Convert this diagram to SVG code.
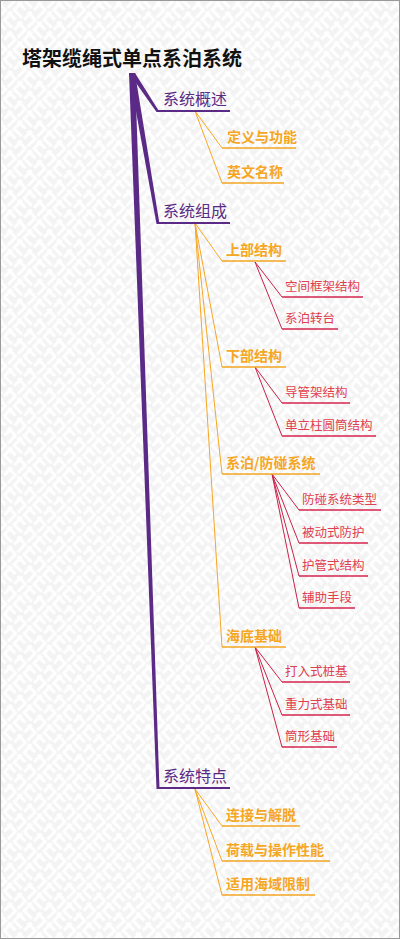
<svg xmlns="http://www.w3.org/2000/svg" width="400" height="939" viewBox="0 0 400 939">
<defs>
<pattern id="bg" width="28" height="28" patternUnits="userSpaceOnUse" patternTransform="rotate(45)">
<rect width="28" height="28" fill="#f3f3f3"/>
<path d="M0 3 H11 V14 M3 0 V11 M17 0 V11 H28 M14 3 H25 M0 17 H11 V28 M3 14 V25 M17 14 V25 H28 M14 17 H25" fill="none" stroke="#ffffff" stroke-width="3"/>
</pattern>
<style>
text{font-family:"Noto Sans CJK SC","Noto Sans",sans-serif}
.root{font-size:20px;font-weight:bold;fill:#111}
.l1{font-size:16px;fill:#5a2a86}
.l2{font-size:14px;font-weight:bold;fill:#f5a623}
.l3{font-size:12.5px;fill:#e0404e}
.u1{stroke:#5a2a86;stroke-width:2;fill:none}
.u2{stroke:#f5a623;stroke-width:1.5;fill:none}
.u3{stroke:#d4244c;stroke-width:1.5;fill:none}
.c1{fill:#5a2a86}
.c2{stroke:#f5a623;stroke-width:1;fill:none}
.c3{stroke:#c8224a;stroke-width:1;fill:none}
</style>
</defs>
<rect x="0" y="0" width="400" height="939" fill="url(#bg)"/>
<rect x="0.5" y="0.5" width="399" height="938" fill="none" stroke="#999" stroke-width="1"/>

<g id="connectors">
<polygon class="c1" points="129,73 135,73 159.5,112 156.5,112"/>
<polygon class="c1" points="129,73 135,73 159.5,224 156.5,224"/>
<polygon class="c1" points="129,73 135,73 159.5,789 156.5,789"/>
<path class="c2" d="M195 111 L222 148 M195 111 L222 183"/>
<path class="c2" d="M195 223 L222 261 M195 223 L222 367 M195 223 L222 474 M195 223 L222 647"/>
<path class="c2" d="M195 789 L222 826 M195 789 L222 861 M195 789 L222 895"/>
<path class="c3" d="M255 262 L282 297 M255 262 L282 329"/>
<path class="c3" d="M255 367 L282 403 M255 367 L282 436"/>
<path class="c3" d="M272 474 L299 510 M272 474 L299 543 M272 474 L299 576 M272 474 L299 608"/>
<path class="c3" d="M255 647 L282 682 M255 647 L282 715 M255 647 L282 747"/>
</g>

<g id="root"><text class="root" x="22" y="66">塔架缆绳式单点系泊系统</text></g>

<g id="n-overview"><text class="l1" x="163" y="105">系统概述</text><line class="u1" x1="157" y1="111" x2="230" y2="111"/></g>
<g id="n-def"><text class="l2" x="227" y="142">定义与功能</text><line class="u2" x1="222" y1="148" x2="296" y2="148"/></g>
<g id="n-en"><text class="l2" x="227" y="177">英文名称</text><line class="u2" x1="222" y1="183" x2="284" y2="183"/></g>

<g id="n-comp"><text class="l1" x="163" y="217">系统组成</text><line class="u1" x1="157" y1="223" x2="230" y2="223"/></g>
<g id="n-upper"><text class="l2" x="226" y="255">上部结构</text><line class="u2" x1="222" y1="261" x2="286" y2="261"/></g>
<g id="n-space"><text class="l3" x="285" y="291">空间框架结构</text><line class="u3" x1="282" y1="297" x2="363" y2="297"/></g>
<g id="n-turret"><text class="l3" x="285" y="323">系泊转台</text><line class="u3" x1="282" y1="329" x2="338" y2="329"/></g>
<g id="n-lower"><text class="l2" x="226" y="361">下部结构</text><line class="u2" x1="222" y1="367" x2="286" y2="367"/></g>
<g id="n-jacket"><text class="l3" x="285" y="397">导管架结构</text><line class="u3" x1="282" y1="403" x2="350" y2="403"/></g>
<g id="n-mono"><text class="l3" x="285" y="430">单立柱圆筒结构</text><line class="u3" x1="282" y1="436" x2="376" y2="436"/></g>
<g id="n-moor"><text class="l2" x="226" y="468">系泊/防碰系统</text><line class="u2" x1="222" y1="474" x2="320" y2="474"/></g>
<g id="n-fender"><text class="l3" x="302" y="504">防碰系统类型</text><line class="u3" x1="299" y1="510" x2="381" y2="510"/></g>
<g id="n-passive"><text class="l3" x="302" y="537">被动式防护</text><line class="u3" x1="299" y1="543" x2="368" y2="543"/></g>
<g id="n-tube"><text class="l3" x="302" y="570">护管式结构</text><line class="u3" x1="299" y1="576" x2="368" y2="576"/></g>
<g id="n-aux"><text class="l3" x="302" y="602">辅助手段</text><line class="u3" x1="299" y1="608" x2="355" y2="608"/></g>
<g id="n-found"><text class="l2" x="226" y="641">海底基础</text><line class="u2" x1="222" y1="647" x2="286" y2="647"/></g>
<g id="n-pile"><text class="l3" x="285" y="676">打入式桩基</text><line class="u3" x1="282" y1="682" x2="350" y2="682"/></g>
<g id="n-gravity"><text class="l3" x="285" y="709">重力式基础</text><line class="u3" x1="282" y1="715" x2="350" y2="715"/></g>
<g id="n-bucket"><text class="l3" x="285" y="741">筒形基础</text><line class="u3" x1="282" y1="747" x2="337" y2="747"/></g>

<g id="n-feat"><text class="l1" x="163" y="782">系统特点</text><line class="u1" x1="157" y1="788" x2="230" y2="788"/></g>
<g id="n-conn"><text class="l2" x="226" y="820">连接与解脱</text><line class="u2" x1="222" y1="826" x2="300" y2="826"/></g>
<g id="n-load"><text class="l2" x="226" y="855">荷载与操作性能</text><line class="u2" x1="222" y1="861" x2="330" y2="861"/></g>
<g id="n-sea"><text class="l2" x="226" y="889">适用海域限制</text><line class="u2" x1="222" y1="895" x2="315" y2="895"/></g>
</svg>
